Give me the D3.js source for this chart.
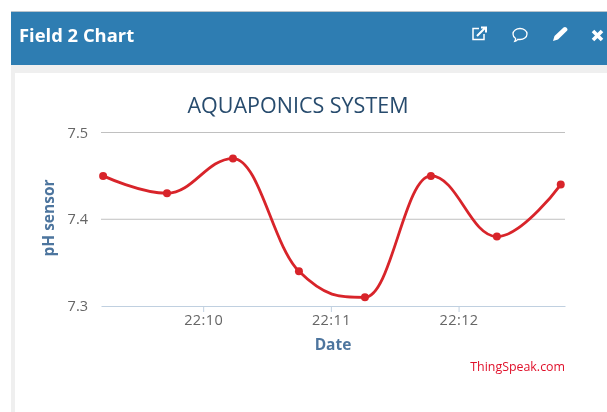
<!DOCTYPE html>
<html><head><meta charset="utf-8">
<script src="https://cdn.jsdelivr.net/npm/d3@7"></script>
<style>html,body{margin:0;padding:0;background:#fff;overflow:hidden}svg{display:block;filter:blur(0.35px)}text{font-family:"Open Sans",sans-serif}</style>
</head><body><div id="chart"></div>
<script>
const chartTitle = "AQUAPONICS SYSTEM";
const panelTitle = "Field 2 Chart";
const xLabel = "Date", yLabel = "pH sensor", credit = "ThingSpeak.com";
const times = ["22:09:13","22:09:43","22:10:14","22:10:45","22:11:16","22:11:47","22:12:18","22:12:48"];
const phValues = [7.45,7.43,7.47,7.34,7.31,7.45,7.38,7.44];
const yTicks = [7.3,7.4,7.5];
const xTicks = ["22:10:00","22:11:00","22:12:00"];
const xDomain = ["22:09:12","22:12:50"];

// Spline curve factory: control points at 1.5/2.5 towards neighbours, flattened at extrema
function splineCurve(context){
  let pts;
  return {
    areaStart(){},areaEnd(){},
    lineStart(){pts=[];},
    point(x,y){pts.push([x,y]);},
    lineEnd(){
      const s=1.5,d=s+1,n=pts.length,L=[],R=[];
      for(let i=0;i<n;i++){
        const [px,py]=pts[i];
        if(i===0||i===n-1){L[i]=[px,py];R[i]=[px,py];continue;}
        const [ax,ay]=pts[i-1],[bx,by]=pts[i+1];
        const lx=(s*px+ax)/d,rx=(s*px+bx)/d;
        let ly=(s*py+ay)/d,ry=(s*py+by)/d;
        const c=(ry-ly)*(rx-px)/(rx-lx)+py-ry;
        ly+=c;ry+=c;
        if(ly>ay&&ly>py){ly=Math.max(ay,py);ry=2*py-ly;}
        else if(ly<ay&&ly<py){ly=Math.min(ay,py);ry=2*py-ly;}
        if(ry>by&&ry>py){ry=Math.max(by,py);ly=2*py-ry;}
        else if(ry<by&&ry<py){ry=Math.min(by,py);ly=2*py-ry;}
        L[i]=[lx,ly];R[i]=[rx,ry];
      }
      context.moveTo(pts[0][0],pts[0][1]);
      for(let i=1;i<n;i++)context.bezierCurveTo(R[i-1][0],R[i-1][1],L[i][0],L[i][1],pts[i][0],pts[i][1]);
    }
  };
}

const parse = d3.timeParse("%H:%M:%S");
const svg = d3.select("#chart").append("svg").attr("width",607).attr("height",412);
// page chrome
svg.append("rect").attr("x",11).attr("y",11).attr("width",596).attr("height",401).attr("fill","#efefef");
svg.append("rect").attr("x",15).attr("y",73).attr("width",592).attr("height",339).attr("fill","#fff");
svg.append("rect").attr("x",11).attr("y",12).attr("width",596).attr("height",53).attr("fill","#2e7db2");
svg.append("rect").attr("x",11).attr("y",11).attr("width",596).attr("height",1).attr("fill","#b9c4cc");
svg.append("text").attr("x",19).attr("y",41.5).attr("fill","#fff").attr("font-size",18.4).attr("font-weight",700).text(panelTitle);
// icons
const ic = svg.append("g").attr("fill","none").attr("stroke","#fff").attr("stroke-width",1.5);
ic.append("path").attr("d","M484 34v5.500h-11v-11h6");
ic.append("path").attr("d","M477 36l8-8M481 27.500h5v5").attr("stroke-width",2);
ic.append("path").attr("d","M513 34c0-3.500 3.500-5.500 7-5.500s7 2 7 5.500-3.500 5.500-7 5.500c-.8 0-1.500 0-2.200-.2-.8 1-1.800 1.700-3 2 .5-.9.8-1.800.8-2.800-1.600-1-2.600-2.500-2.600-4.500z").attr("stroke-width",1.3);
svg.append("path").attr("d","M553 41l1.500-5 9-8.500c1-.8 2-.8 2.800 0l.7.700c.7.800.7 1.800 0 2.600l-9 8.700z").attr("fill","#fff");
svg.append("path").attr("d","M593 31l9 9M602 31l-9 9").attr("stroke","#fff").attr("stroke-width",3.6);

const x = d3.scaleTime().domain(xDomain.map(parse)).range([101,565]);
const y = d3.scaleLinear().domain([7.3,7.5]).range([306,132.500]);

svg.append("g").selectAll("line").data(yTicks.filter(d=>d>7.3)).join("line")
 .attr("x1",101).attr("x2",565).attr("y1",d=>y(d)).attr("y2",d=>y(d)).attr("stroke","#c0c0c0").attr("stroke-width",1);
const xa = svg.append("g").attr("transform",`translate(0,${y(7.3)})`)
 .call(d3.axisBottom(x).tickValues(xTicks.map(parse)).tickFormat(d3.timeFormat("%H:%M")).tickSizeInner(6).tickSizeOuter(0).tickPadding(3));
xa.select(".domain").attr("stroke","#c0d0e0").attr("stroke-width",1);
xa.selectAll("line").attr("stroke","#c0d0e0");
xa.selectAll("text").attr("fill","#666").attr("font-size",14.5).attr("letter-spacing",0.4);
const ya = svg.append("g").attr("transform","translate(92,0)")
 .call(d3.axisLeft(y).tickValues(yTicks).tickFormat(d3.format(".1f")).tickSize(0).tickPadding(4));
ya.select(".domain").remove();
ya.selectAll("text").attr("fill","#666").attr("font-size",14.5);

const pts = times.map((t,i)=>({t:parse(t),v:phValues[i]}));
svg.append("path").datum(pts).attr("fill","none").attr("stroke","#d8242a").attr("stroke-width",2.8)
 .attr("d",d3.line().x(d=>x(d.t)).y(d=>y(d.v)).curve(splineCurve));
svg.append("g").selectAll("circle").data(pts).join("circle")
 .attr("cx",d=>x(d.t)).attr("cy",d=>y(d.v)).attr("r",4).attr("fill","#d8242a");

svg.append("text").attr("x",298).attr("y",113).attr("text-anchor","middle").attr("font-size",21.5).attr("fill","#274b6d").text(chartTitle);
svg.append("text").attr("x",333).attr("y",350).attr("text-anchor","middle").attr("font-size",15.5).attr("font-weight",700).attr("fill","#4d759e").text(xLabel);
svg.append("text").attr("transform","translate(54,218) rotate(-90)").attr("text-anchor","middle").attr("font-size",15.5).attr("font-weight",700).attr("fill","#4d759e").text(yLabel);
svg.append("text").attr("x",565).attr("y",371).attr("text-anchor","end").attr("font-size",12.4).attr("fill","#e0102a").text(credit);
</script></body></html>
